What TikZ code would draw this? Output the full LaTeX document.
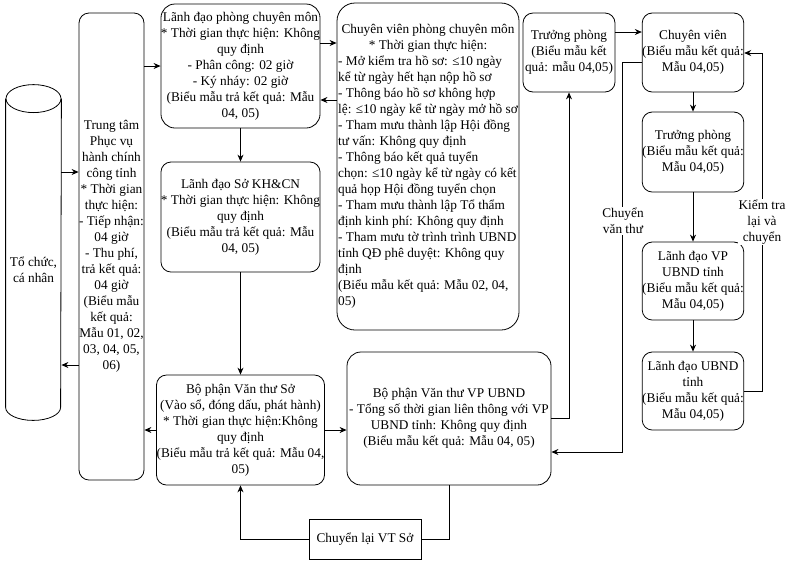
\documentclass[tikz,border=0pt]{standalone}
\usepackage{fontspec}
\setmainfont{Liberation Serif}
\usetikzlibrary{arrows.meta}
\begin{document}
\begin{tikzpicture}[x=1pt, y=-1pt, line width=0.8pt, >={Stealth[length=7pt,width=6pt]},
		font=\fontsize{13.3}{16}\selectfont,
		khoi/.style={draw, rounded corners=10pt, align=center, inner sep=0pt},
		nhan/.style={fill=white, align=center, inner sep=1pt}]
	\useasboundingbox (0,0) rectangle (786,566);
	
	\node[minimum width=55pt, minimum height=335pt, inner sep=0pt, label={[align=center, yshift=-17pt]center:Tổ chức,\\cá nhân}] (tc) at (33.5,252.5) {};
	\draw ([yshift=-14pt]tc.north west) -- ([yshift=13pt]tc.south west) arc[start angle=180, end angle=360, x radius=27.5pt, y radius=13pt] -- ([yshift=-14pt]tc.north east);
	\draw ([yshift=-14pt]tc.north) ellipse[x radius=27.5pt, y radius=14pt];
	
	\node[khoi, minimum width=65pt, minimum height=467pt] (tt) at (111.5,246.5) {Trung tâm\\Phục vụ\\hành chính\\công tỉnh\\* Thời gian\\thực hiện:\\- Tiếp nhận:\\04 giờ\\- Thu phí,\\trả kết quả:\\04 giờ\\(Biểu mẫu\\kết quả:\\Mẫu 01, 02,\\03, 04, 05,\\06)};
	\node[khoi, rounded corners=14pt, minimum width=157pt, minimum height=124pt] (ldp) at (240.5,66) {Lãnh đạo phòng chuyên môn\\* Thời gian thực hiện: Không\\quy định\\- Phân công: 02 giờ\\- Ký nháy: 02 giờ\\(Biểu mẫu trả kết quả: Mẫu\\04, 05)};
	\node[khoi, minimum width=158pt, minimum height=110pt] (lds) at (240.5,217) {Lãnh đạo Sở KH\&CN\\* Thời gian thực hiện: Không\\quy định\\(Biểu mẫu trả kết quả: Mẫu\\04, 05)};
	\node[khoi, minimum width=168pt, minimum height=110pt] (vts) at (240.5,430) {Bộ phận Văn thư Sở\\(Vào sổ, đóng dấu, phát hành)\\* Thời gian thực hiện:Không\\quy định\\(Biểu mẫu trả kết quả: Mẫu 04,\\05)};
	\node[draw, rounded corners=18pt, inner sep=0pt, minimum width=182pt, minimum height=327pt] (cvp) at (428,166.5) {\begin{tabular}{@{}l@{}}
		\multicolumn{1}{@{}c@{}}{Chuyên viên phòng chuyên môn}\\
		\multicolumn{1}{@{}c@{}}{* Thời gian thực hiện:}\\
		- Mở kiểm tra hồ sơ: ≤10 ngày\\
		kể từ ngày hết hạn nộp hồ sơ\\
		- Thông báo hồ sơ không hợp\\
		lệ: ≤10 ngày kể từ ngày mở hồ sơ\\
		- Tham mưu thành lập Hội đồng\\
		tư vấn: Không quy định\\
		- Thông báo kết quả tuyển\\
		chọn: ≤10 ngày kể từ ngày có kết\\
		quả họp Hội đồng tuyển chọn\\
		- Tham mưu thành lập Tổ thẩm\\
		định kinh phí: Không quy định\\
		- Tham mưu tờ trình trình UBND\\
		tỉnh QĐ phê duyệt: Không quy\\
		định\\
		(Biểu mẫu kết quả: Mẫu 02, 04,\\
		05)
	\end{tabular}};
	\node[khoi, rounded corners=14pt, minimum width=204pt, minimum height=133pt] (vpu) at (449,418.5) {Bộ phận Văn thư VP UBND\\- Tổng số thời gian liên thông với VP\\UBND tỉnh: Không quy định\\(Biểu mẫu kết quả: Mẫu 04, 05)};
	\node[khoi, minimum width=92pt, minimum height=79pt] (tp1) at (569,52.5) {Trưởng phòng\\(Biểu mẫu kết\\quả: mẫu 04,05)};
	\node[khoi, minimum width=101pt, minimum height=79pt] (cv) at (693,52.5) {Chuyên viên\\(Biểu mẫu kết quả:\\Mẫu 04,05)};
	\node[khoi, minimum width=101pt, minimum height=80pt] (tp2) at (693,152) {Trưởng phòng\\(Biểu mẫu kết quả:\\Mẫu 04,05)};
	\node[khoi, minimum width=101pt, minimum height=78pt] (ldvp) at (693,281) {Lãnh đạo VP\\UBND tỉnh\\(Biểu mẫu kết quả:\\Mẫu 04,05)};
	\node[khoi, minimum width=101pt, minimum height=78pt] (ldub) at (693,391) {Lãnh đạo UBND\\tỉnh\\(Biểu mẫu kết quả:\\Mẫu 04,05)};
	\node[draw, minimum width=112pt, minimum height=40pt] (clv) at (365,539) {Chuyển lại VT Sở};
	
	\draw[->] (tc.east |- 0,172) -- (tt.west |- 0,172);
	\draw[->] (tt.west |- 0,365) -- (tc.east |- 0,365);
	\draw[->] (tt.east |- ldp) -- (ldp.west);
	\draw[->] (ldp.east |- 0,43) -- (cvp.west |- 0,43);
	\draw[->] (cvp.west |- 0,100) -- (ldp.east |- 0,100);
	\draw[->] (ldp.south) -- (lds.north);
	\draw[->] (lds.south) -- (vts.north);
	\draw[->] (vts.west) -- (vts.west -| tt.east);
	\draw[->] (vts.east) -- (vts.east -| vpu.west);
	\draw[->] (vpu.east) -| (tp1.south);
	\draw[->] (tp1.east |- 0,32) -- (cv.west |- 0,32);
	\draw[->] (cv.west |- 0,62) -- ++(-19,0) |- (vpu.east |- 0,452);
	\draw[->] (cv.south) -- (tp2.north);
	\draw[->] (tp2.south) -- (ldvp.north);
	\draw[->] (ldvp.south) -- (ldub.north);
	\draw[->] (ldub.east) -- ++(18,0) |- (cv.east |- 0,53);
	\draw (vpu.south) |- (clv.east);
	\draw[->] (clv.west) -| (vts.south);
	
	\node[nhan] (cvt) at (623,221) {Chuyển\\văn thư};
	\node[nhan] (ktl) at (762,222) {Kiểm tra\\lại và\\chuyển};
\end{tikzpicture}
\end{document}
